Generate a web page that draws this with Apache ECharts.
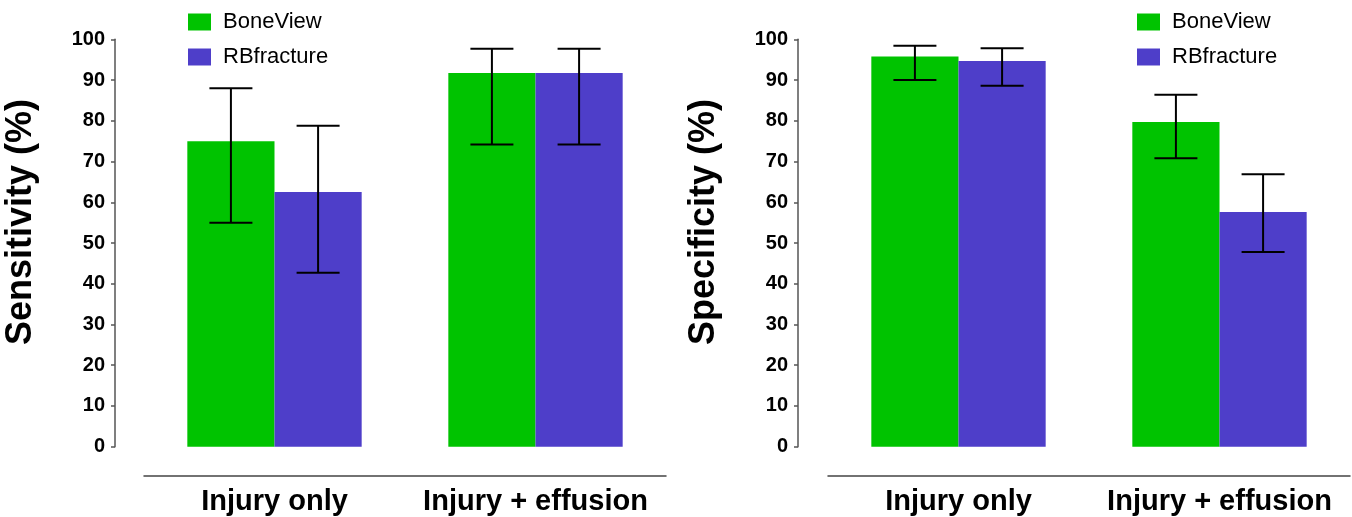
<!DOCTYPE html>
<html>
<head>
<meta charset="utf-8">
<script src="https://cdn.jsdelivr.net/npm/echarts@6/dist/echarts.min.js"></script>
<style>
  html, body { margin: 0; padding: 0; background: #fff; }
  #chart { width: 1352px; height: 517px; }
</style>
</head>
<body>
<div id="chart"></div>
<script>
const categories = ['Injury only', 'Injury + effusion']
const yTicks = [0, 10, 20, 30, 40, 50, 60, 70, 80, 90, 100]

// sensitivity (%)
const sensBoneView = [75, 91.7]
const sensBoneViewLow = [55, 74.2]
const sensBoneViewHigh = [88, 97.7]
const sensRB = [62.5, 91.7]
const sensRBLow = [42.7, 74.2]
const sensRBHigh = [78.8, 97.7]

// specificity (%)
const specBoneView = [95.8, 79.7]
const specBoneViewLow = [90, 70.8]
const specBoneViewHigh = [98.4, 86.4]
const specRB = [94.7, 57.6]
const specRBLow = [88.6, 47.8]
const specRBHigh = [97.8, 66.9]

const green = '#00c300'
const purple = '#4e3ec9'
const font = 'Liberation Sans, Arial, sans-serif'
const barPct = 0.334

const chart = echarts.init(document.getElementById('chart'))

function errData(low, high) {
  return low.map((v, i) => [i, v, high[i]])
}

// side: -1 left bar, 1 right bar
function errRender(side) {
  return function (params, api) {
    const idx = api.value(0)
    const band = api.size([1, 0])[0]
    const x = api.coord([idx, 0])[0] + side * band * barPct / 2
    const yLow = api.coord([idx, api.value(1)])[1]
    const yHigh = api.coord([idx, api.value(2)])[1]
    const hw = 21.5
    const style = { stroke: '#000', lineWidth: 2 }
    return {
      type: 'group',
      children: [
        { type: 'line', shape: { x1: x, y1: yLow, x2: x, y2: yHigh }, style },
        { type: 'line', shape: { x1: x - hw, y1: yLow, x2: x + hw, y2: yLow }, style },
        { type: 'line', shape: { x1: x - hw, y1: yHigh, x2: x + hw, y2: yHigh }, style }
      ]
    }
  }
}

function xAxisOf(gridIndex) {
  return {
    type: 'category',
    gridIndex,
    data: categories,
    offset: 29,
    axisLine: { onZero: false, lineStyle: { color: '#444', width: 1.5 } },
    axisTick: { alignWithLabel: true, length: 4, lineStyle: { color: '#444', width: 1.5 } },
    axisLabel: { interval: 0, color: '#000', fontFamily: font, fontWeight: 'bold', fontSize: 29, margin: 12 }
  }
}

function yAxisOf(gridIndex, name, offset) {
  return {
    type: 'value',
    gridIndex,
    min: 0,
    max: 100,
    interval: 10,
    offset,
    name,
    nameLocation: 'middle',
    nameGap: 76,
    nameTextStyle: { color: '#000', fontFamily: font, fontWeight: 'bold', fontSize: 36, padding: [0, 0, 0, 42] },
    splitLine: { show: false },
    axisLine: { show: true, lineStyle: { color: '#555', width: 1.5 } },
    axisTick: { show: true, length: 4, lineStyle: { color: '#555', width: 1.5 } },
    axisLabel: { color: '#000', fontFamily: font, fontWeight: 'bold', fontSize: 20, margin: 10 }
  }
}

function legendOf(left) {
  return {
    data: ['BoneView', 'RBfracture'],
    orient: 'vertical',
    left,
    top: 6,
    icon: 'rect',
    itemWidth: 23,
    itemHeight: 17,
    itemGap: 13,
    selectedMode: false,
    textStyle: { color: '#000', fontFamily: font, fontSize: 22, padding: [0, 0, 0, 7] }
  }
}

const option = {
  animation: false,
  legend: [legendOf(183), legendOf(1132)],
  grid: [
    { left: 144, width: 522, top: 39.3, bottom: 70.3 },
    { left: 828, width: 522, top: 39.3, bottom: 70.3 }
  ],
  xAxis: [xAxisOf(0), xAxisOf(1)],
  yAxis: [yAxisOf(0, 'Sensitivity (%)', 29), yAxisOf(1, 'Specificity (%)', 30)],
  series: [
    { name: 'BoneView', type: 'bar', xAxisIndex: 0, yAxisIndex: 0, data: sensBoneView,
      barWidth: barPct * 100 + '%', barGap: '0%', itemStyle: { color: green } },
    { name: 'RBfracture', type: 'bar', xAxisIndex: 0, yAxisIndex: 0, data: sensRB,
      barWidth: barPct * 100 + '%', barGap: '0%', itemStyle: { color: purple } },
    { name: 'BoneView', type: 'bar', xAxisIndex: 1, yAxisIndex: 1, data: specBoneView,
      barWidth: barPct * 100 + '%', barGap: '0%', itemStyle: { color: green } },
    { name: 'RBfracture', type: 'bar', xAxisIndex: 1, yAxisIndex: 1, data: specRB,
      barWidth: barPct * 100 + '%', barGap: '0%', itemStyle: { color: purple } },
    { type: 'custom', xAxisIndex: 0, yAxisIndex: 0, renderItem: errRender(-1),
      data: errData(sensBoneViewLow, sensBoneViewHigh), encode: { x: 0, y: [1, 2] }, z: 5 },
    { type: 'custom', xAxisIndex: 0, yAxisIndex: 0, renderItem: errRender(1),
      data: errData(sensRBLow, sensRBHigh), encode: { x: 0, y: [1, 2] }, z: 5 },
    { type: 'custom', xAxisIndex: 1, yAxisIndex: 1, renderItem: errRender(-1),
      data: errData(specBoneViewLow, specBoneViewHigh), encode: { x: 0, y: [1, 2] }, z: 5 },
    { type: 'custom', xAxisIndex: 1, yAxisIndex: 1, renderItem: errRender(1),
      data: errData(specRBLow, specRBHigh), encode: { x: 0, y: [1, 2] }, z: 5 }
  ]
}

chart.setOption(option)
</script>
</body>
</html>
